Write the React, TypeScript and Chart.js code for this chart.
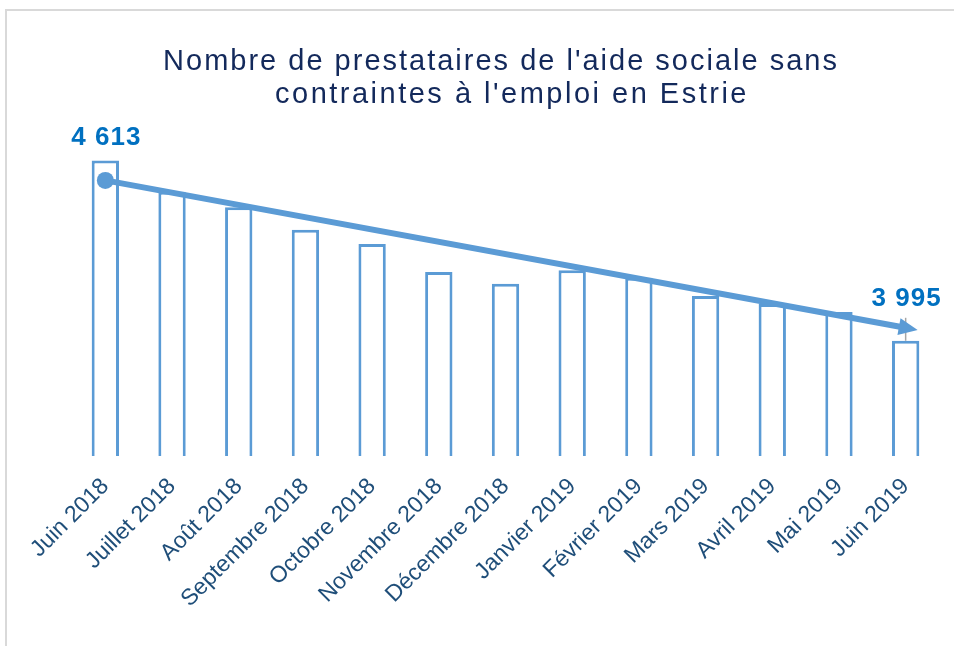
import React, { useEffect, useRef } from "react";
import { Chart, registerables } from "chart.js";

Chart.register(...registerables);

const categories = [
  "Juin 2018",
  "Juillet 2018",
  "Août 2018",
  "Septembre 2018",
  "Octobre 2018",
  "Novembre 2018",
  "Décembre 2018",
  "Janvier 2019",
  "Février 2019",
  "Mars 2019",
  "Avril 2019",
  "Mai 2019",
  "Juin 2019",
];
const values = [4613, 4506, 4453, 4376, 4327, 4231, 4191, 4237, 4211, 4149, 4121, 4094, 3995];
const titleLines = ["Nombre de prestataires de l'aide sociale sans", "contraintes à l'emploi en Estrie"];
const trendIndexes = [0, 12.18];
const trendValues = [4545, 4032];
const labelledIndexes = [0, 12];
const yMin = 3600;
const yMax = 4800;

const FONT = "'Liberation Sans', Arial, Helvetica, sans-serif";
const BLUE = "#5b9bd5";

const fmt = (v: number) => String(v).replace(/\B(?=(\d{3})+(?!\d))/g, " ");

const overlay = {
  id: "overlay",
  beforeDraw(chart: any) {
    const ctx = chart.ctx as CanvasRenderingContext2D;
    ctx.save();
    ctx.fillStyle = "#ffffff";
    ctx.fillRect(0, 0, chart.width, chart.height);
    ctx.strokeStyle = "#d9d9d9";
    ctx.lineWidth = 2;
    ctx.beginPath();
    ctx.moveTo(6, chart.height);
    ctx.lineTo(6, 10);
    ctx.lineTo(chart.width, 10);
    ctx.stroke();
    ctx.fillStyle = "#13295b";
    ctx.font = `29px ${FONT}`;
    (ctx as any).letterSpacing = "2px";
    ctx.textAlign = "center";
    ctx.textBaseline = "alphabetic";
    ctx.fillText(titleLines[0], 501, 70);
    (ctx as any).letterSpacing = "2.5px";
    ctx.fillText(titleLines[1], 512, 103);
    ctx.restore();
  },
  afterDatasetsDraw(chart: any) {
    const ctx = chart.ctx as CanvasRenderingContext2D;
    const xs = chart.scales.x;
    const ys = chart.scales.y;
    const step = xs.getPixelForValue(1) - xs.getPixelForValue(0);
    const px = (i: number) => xs.getPixelForValue(0) + i * step;
    const labelOffsets = [23, 42];
    ctx.save();

    // leader line for last label
    const li = labelledIndexes[1];
    const lx = px(li);
    const lTop = ys.getPixelForValue(values[li]);
    ctx.strokeStyle = "#a6a6a6";
    ctx.lineWidth = 1.5;
    ctx.beginPath();
    ctx.moveTo(lx, lTop);
    ctx.lineTo(lx, lTop - labelOffsets[1] + 19);
    ctx.stroke();

    // trend arrow
    const x0 = px(trendIndexes[0]);
    const y0 = ys.getPixelForValue(trendValues[0]);
    const x1 = px(trendIndexes[1]);
    const y1 = ys.getPixelForValue(trendValues[1]);
    const ang = Math.atan2(y1 - y0, x1 - x0);
    const headLen = 19;
    const headW = 8.5;
    const bx = x1 - headLen * Math.cos(ang);
    const by = y1 - headLen * Math.sin(ang);
    ctx.strokeStyle = BLUE;
    ctx.fillStyle = BLUE;
    ctx.lineWidth = 6;
    ctx.lineCap = "butt";
    ctx.beginPath();
    ctx.moveTo(x0, y0);
    ctx.lineTo(bx + Math.cos(ang), by + Math.sin(ang));
    ctx.stroke();
    ctx.beginPath();
    ctx.moveTo(x1, y1);
    ctx.lineTo(bx + headW * Math.sin(ang), by - headW * Math.cos(ang));
    ctx.lineTo(bx - headW * Math.sin(ang), by + headW * Math.cos(ang));
    ctx.closePath();
    ctx.fill();
    ctx.beginPath();
    ctx.arc(x0, y0, 8.5, 0, Math.PI * 2);
    ctx.fill();

    // value labels
    ctx.fillStyle = "#0070c0";
    ctx.font = `bold 26px ${FONT}`;
    (ctx as any).letterSpacing = "1px";
    ctx.textAlign = "center";
    ctx.textBaseline = "middle";
    labelledIndexes.forEach((idx, k) => {
      const x = px(idx);
      const y = ys.getPixelForValue(values[idx]) - labelOffsets[k];
      ctx.fillText(fmt(values[idx]), x + 1, y);
    });
    ctx.restore();
  },
};

export default function App() {
  const ref = useRef<HTMLCanvasElement | null>(null);
  useEffect(() => {
    if (!ref.current) return;
    const chart = new Chart(ref.current, {
      type: "bar",
      data: {
        labels: categories,
        datasets: [
          {
            data: values,
            backgroundColor: "#ffffff",
            borderColor: BLUE,
            borderWidth: 3,
            borderSkipped: false,
            barPercentage: 0.41,
            categoryPercentage: 1,
          },
        ],
      },
      options: {
        responsive: false,
        animation: false,
        devicePixelRatio: 1,
        layout: { padding: { left: 72, right: 15, top: 106, bottom: 0 } },
        plugins: {
          legend: { display: false },
          tooltip: { enabled: false },
          title: { display: false },
        },
        scales: {
          x: {
            grid: { display: false, drawTicks: false },
            border: { display: false },
            ticks: {
              autoSkip: false,
              maxRotation: 45,
              minRotation: 45,
              color: "#1f4e79",
              padding: 17,
              font: { size: 23, family: FONT },
            },
            afterFit: (s: any) => {
              s.height = 190;
            },
          },
          y: {
            display: false,
            min: yMin,
            max: yMax,
          },
        },
      },
      plugins: [overlay],
    });
    return () => chart.destroy();
  }, []);
  return (
    <div style={{ position: "fixed", left: 0, top: 0, width: 954, height: 646, background: "#fff" }}>
      <canvas ref={ref} width={954} height={646} />
    </div>
  );
}
